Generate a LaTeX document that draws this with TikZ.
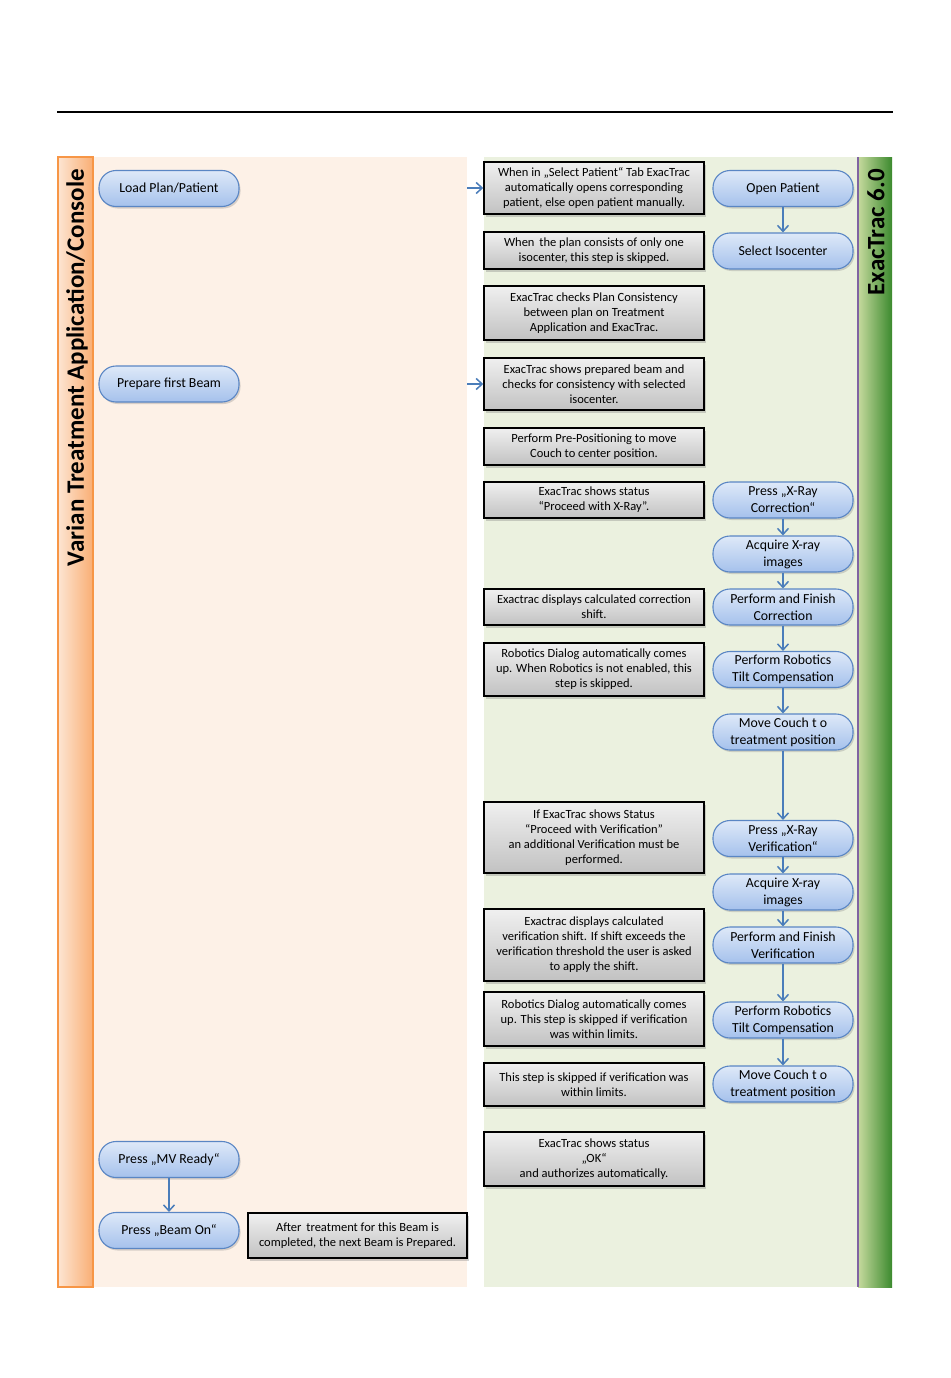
\documentclass[tikz,border=0pt]{standalone}
\usepackage{fontspec}
\setmainfont{Carlito}
\usetikzlibrary{arrows.meta,shadows,positioning}
\definecolor{peach}{HTML}{FDF1E7}
\definecolor{palegreen}{HTML}{EBF1DF}
\definecolor{flowblue}{HTML}{4A7DBA}
\definecolor{nodeborder}{HTML}{5A86C4}
\definecolor{nodetop}{HTML}{DEE9F8}
\definecolor{nodebot}{HTML}{A5C1EC}
\definecolor{orangeL}{HTML}{FDE5D2}
\definecolor{orangeR}{HTML}{F9AE74}
\definecolor{orangeB}{HTML}{F79646}
\definecolor{greenL}{HTML}{C6DA9E}
\definecolor{greenR}{HTML}{3C8A2E}
\definecolor{lanepurple}{HTML}{8064A2}
\tikzset{
  bluestep/.style={rounded corners=17pt, minimum width=140pt, minimum height=36pt,
    draw=nodeborder, line width=1.1pt, top color=nodetop, bottom color=nodebot,
    drop shadow={opacity=0.3, shadow xshift=1.5pt, shadow yshift=-2pt},
    font=\fontsize{13.8}{17}\selectfont, align=center, inner sep=0pt},
  graynote/.style={draw=black, line width=1.5pt, top color=gray!12, bottom color=gray!48,
    drop shadow={opacity=0.35, shadow xshift=2pt, shadow yshift=-2.5pt},
    minimum width=220pt, font=\fontsize{12.5}{15}\selectfont, align=center, inner sep=0pt},
  flow/.style={draw=flowblue, line width=1.5pt, -{Straight Barb[length=6pt,width=11pt,line width=1.5pt]}},
  lanetitle/.style={rotate=90, anchor=east, font=\fontsize{25}{28}\selectfont\bfseries, inner sep=0pt}
}
\begin{document}
\begin{tikzpicture}[x=1pt,y=-1pt]
\useasboundingbox (0,0) rectangle (950,1378);
\fill[white] (0,0) rectangle (950,1378);
% top rule
\draw[line width=1.6pt] (57,112) -- (893,112);
% lanes
\fill[peach] (93,157) rectangle (467,1287);
\fill[palegreen] (484,157) rectangle (858,1287);
\shade[left color=orangeL, right color=orangeR] (58,157) rectangle (93,1287);
\draw[orangeB, line width=1.2pt] (58,157) rectangle (93,1287);
\shade[left color=greenL, right color=greenR] (858,157) rectangle (892,1287);
\draw[lanepurple, line width=2pt] (858,157) -- (858,1287);
\node[lanetitle] (ltitle) at (77,169) {Varian Treatment Application/Console};
\node[lanetitle] (rtitle) at (876,169) {ExacTrac 6.0};

% left lane steps
\node[bluestep] (load) at (169,188.5) {Load Plan/Patient};
\node[bluestep] (prep) at (169,384) {Prepare first Beam};
\node[bluestep] (mv) at (169,1159.5) {Press „MV Ready“};
\node[bluestep] (beam) at (169,1230.5) {Press „Beam On“};
\node[graynote, minimum width=219pt, minimum height=45pt] (after) at (357.5,1235.5) {After\, treatment for this Beam is\\completed, the next Beam is Prepared.};

% notes
\node[graynote, minimum height=52pt] (n1) at (594,188) {When in „Select Patient“ Tab ExacTrac\\automatically opens corresponding\\patient, else open patient manually.};
\node[graynote, minimum height=37pt] (n2) at (594,250.5) {When\, the plan consists of only one\\isocenter, this step is skipped.};
\node[graynote, minimum height=54pt] (n3) at (594,313) {ExacTrac checks Plan Consistency\\between plan on Treatment\\Application and ExacTrac.};
\node[graynote, minimum height=52pt] (n4) at (594,384) {ExacTrac shows prepared beam and\\checks for consistency with selected\\isocenter.};
\node[graynote, minimum height=37pt] (n5) at (594,446.5) {Perform Pre-Positioning to move\\Couch to center position.};
\node[graynote, minimum height=36pt] (n6) at (594,500) {ExacTrac shows status\\“Proceed with X-Ray”.};
\node[graynote, minimum height=36pt] (n7) at (594,607) {Exactrac displays calculated correction\\shift.};
\node[graynote, minimum height=53pt] (n8) at (594,669.5) {Robotics Dialog automatically comes\\up. When Robotics is not enabled, this\\step is skipped.};
\node[graynote, minimum height=71pt] (n9) at (594,837.5) {If ExacTrac shows Status\\“Proceed with Verification”\\an additional Verification must be\\performed.};
\node[graynote, minimum height=72pt] (n10) at (594,945) {Exactrac displays calculated\\verification shift. If shift exceeds the\\verification threshold the user is asked\\to apply the shift.};
\node[graynote, minimum height=54pt] (n11) at (594,1019) {Robotics Dialog automatically comes\\up. This step is skipped if verification\\was within limits.};
\node[graynote, minimum height=43pt] (n12) at (594,1084.5) {This step is skipped if verification was\\within limits.};
\node[graynote, minimum height=54pt] (n13) at (594,1159) {ExacTrac shows status\\„OK“\\and authorizes automatically.};

% right lane steps
\node[bluestep] (open) at (783,188.5) {Open Patient};
\node[bluestep] (iso) at (783,251) {Select Isocenter};
\node[bluestep] (xc) at (783,500) {Press „X-Ray\\Correction“};
\node[bluestep] (acq1) at (783,554) {Acquire X-ray\\images};
\node[bluestep] (pfc) at (783,607) {Perform and Finish\\Correction};
\node[bluestep] (rob1) at (783,669.5) {Perform Robotics\\Tilt Compensation};
\node[bluestep] (mc1) at (783,732) {Move Couch t o\\treatment position};
\node[bluestep] (xv) at (783,838.5) {Press „X-Ray\\Verification“};
\node[bluestep] (acq2) at (783,892) {Acquire X-ray\\images};
\node[bluestep] (pfv) at (783,945) {Perform and Finish\\Verification};
\node[bluestep] (rob2) at (783,1020) {Perform Robotics\\Tilt Compensation};
\node[bluestep] (mc2) at (783,1084) {Move Couch t o\\treatment position};

% connectors
\draw[flow] (open) -- (iso);
\draw[flow] (xc) -- (acq1);
\draw[flow] (acq1) -- (pfc);
\draw[flow] (pfc) -- (rob1);
\draw[flow] (rob1) -- (mc1);
\draw[flow] (mc1) -- (xv);
\draw[flow] (xv) -- (acq2);
\draw[flow] (acq2) -- (pfv);
\draw[flow] (pfv) -- (rob2);
\draw[flow] (rob2) -- (mc2);
\draw[flow] (mv) -- (beam);
\coordinate (in1) at (467,188);
\coordinate (in4) at (467,384);
\draw[flow] (in1) -- (n1.west);
\draw[flow] (in4) -- (n4.west);
\end{tikzpicture}
\end{document}
